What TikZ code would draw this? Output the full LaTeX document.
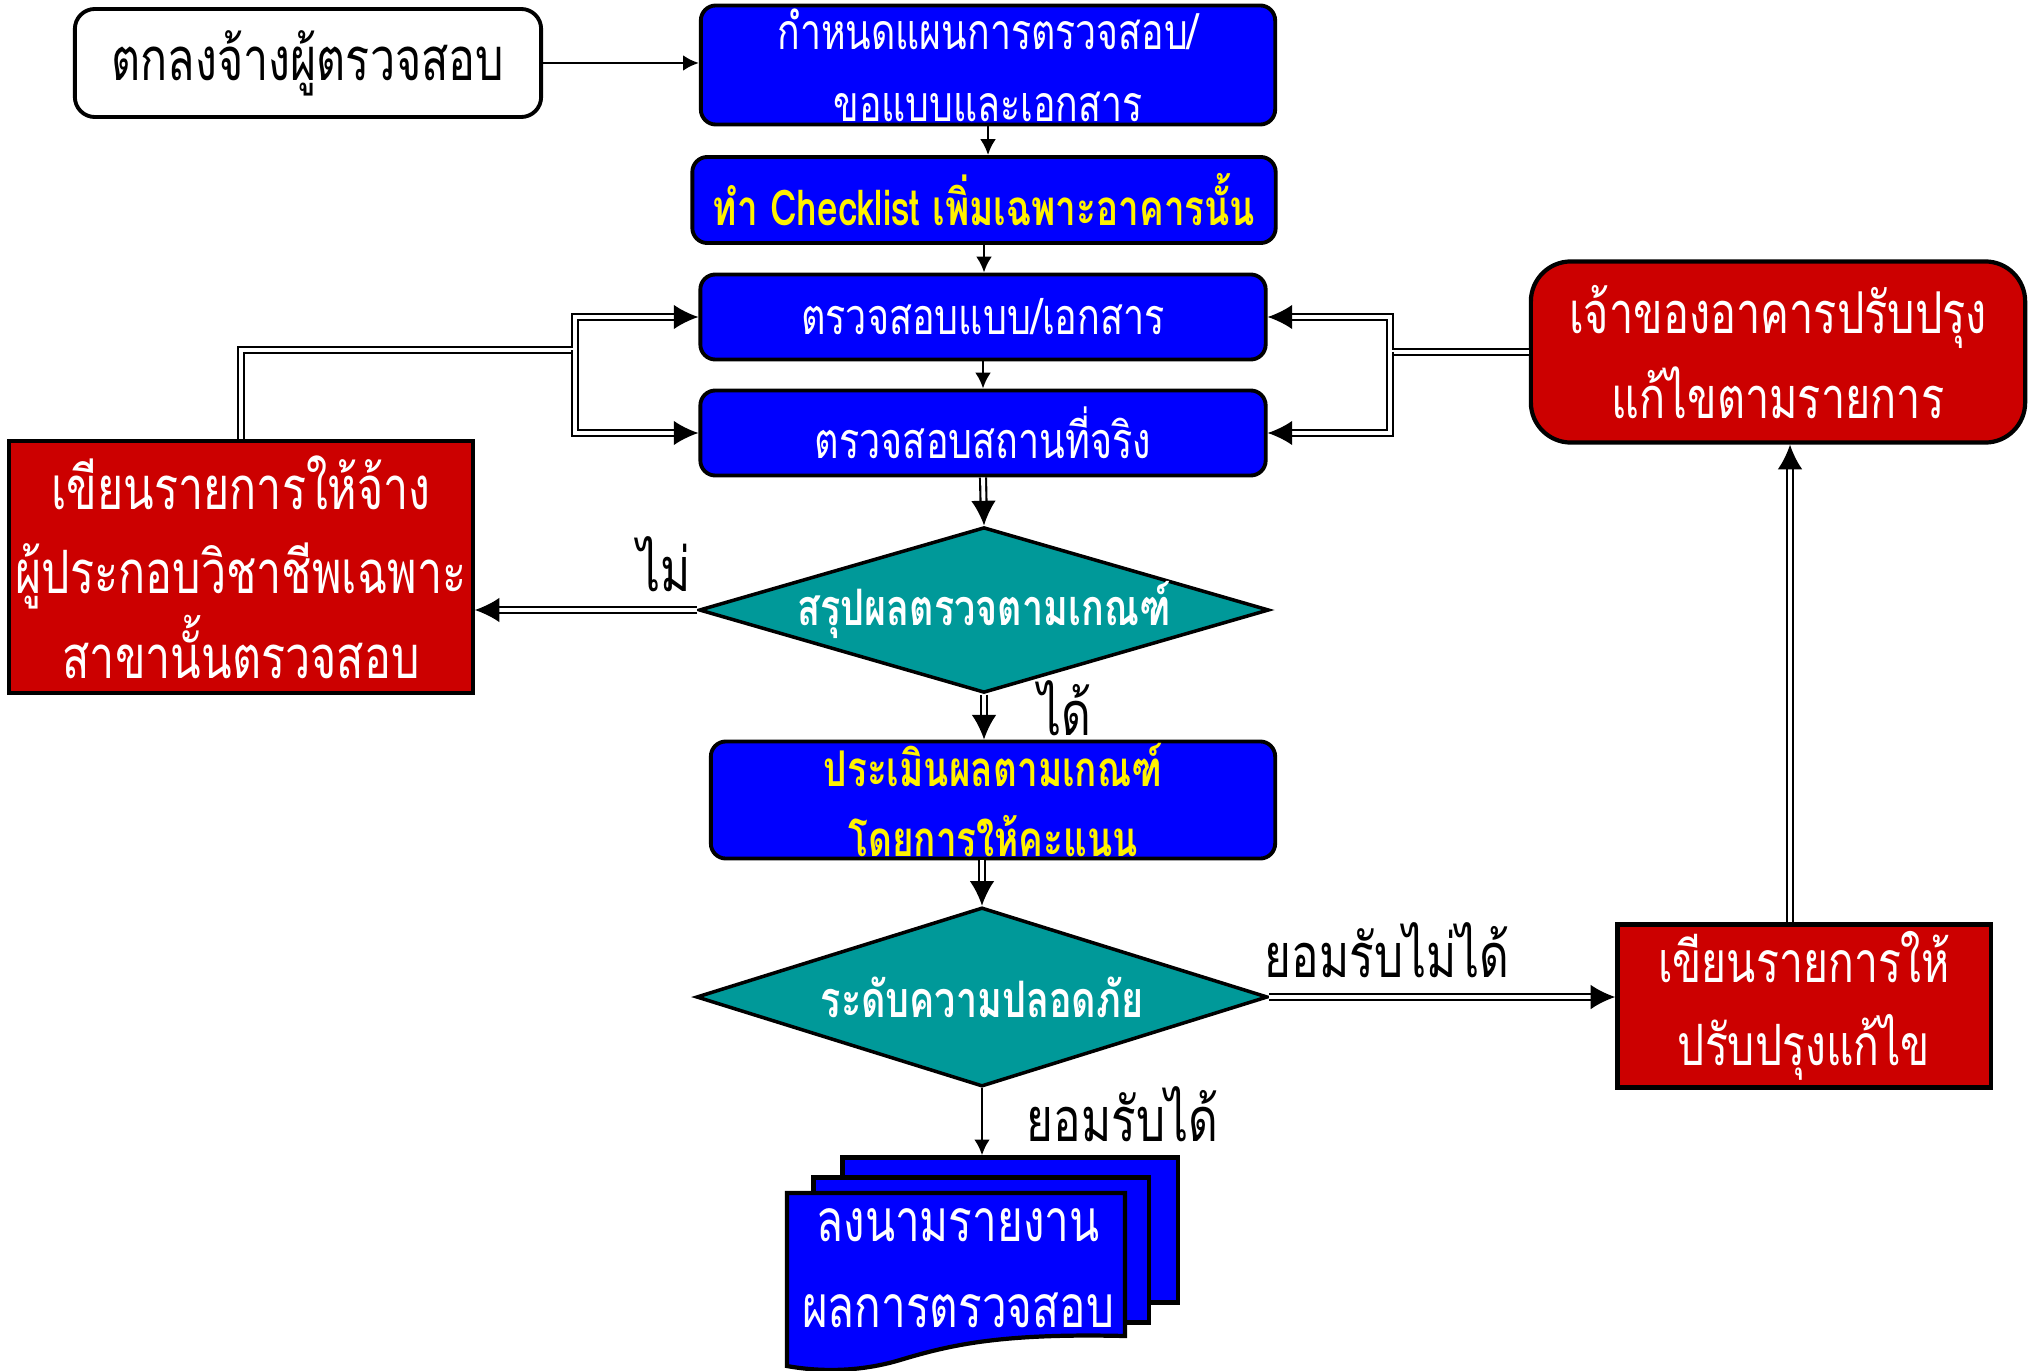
\documentclass[tikz,border=0pt]{standalone}
\usepackage{fontspec}
\newfontfamily\thai[Script=Thai,FakeStretch=0.75]{Loma}
\usetikzlibrary{shapes.geometric,arrows.meta,positioning}

\definecolor{boxblue}{RGB}{0,0,255}
\definecolor{boxred}{RGB}{204,0,0}
\definecolor{boxteal}{RGB}{0,153,153}

\begin{document}
\begin{tikzpicture}[x=0.01cm,y=-0.01cm,
box/.style={draw, line width=1.1pt, rounded corners=0.15cm, inner sep=0pt, align=center},
bluebox/.style={box, fill=boxblue, text=white},
redbox/.style={draw, line width=1.2pt, fill=boxred, text=white, inner sep=0pt, align=center},
decide/.style={diamond, aspect=3.44, draw, line width=1pt, fill=boxteal, text=white, inner sep=0pt},
page/.style={draw, line width=1.2pt, fill=boxblue, minimum width=3.35cm, minimum height=1.45cm},
flow/.style={line width=0.8pt, -{Latex[length=4.5pt,width=4.5pt]}},
dbl/.style={double, line width=0.6pt, double distance=1.1pt, -{Latex[length=7pt,width=7pt]}},
lbl/.style={font=\thai\fontsize{17.4}{20}\selectfont, inner sep=1pt}]

\useasboundingbox (0,0) rectangle (2040,1370);

% top row
\node[box, rounded corners=0.2cm, minimum width=4.66cm, minimum height=1.08cm,
  font=\thai\fontsize{17}{20}\selectfont] (hire) at (308,63) {ตกลงจ้างผู้ตรวจสอบ};
\node[bluebox, minimum width=5.74cm, minimum height=1.19cm,
  font=\thai\fontsize{14.2}{20.5}\selectfont] (plan) at (988,65) {กำหนดแผนการตรวจสอบ/\\ขอแบบและเอกสาร};
\node[bluebox, text=yellow, minimum width=5.83cm, minimum height=0.86cm,
  font=\thai\bfseries\fontsize{14}{17}\selectfont] (checklist) at (984,200) {ทำ Checklist เพิ่มเฉพาะอาคารนั้น};
\node[bluebox, minimum width=5.65cm, minimum height=0.85cm,
  font=\thai\fontsize{14.3}{17}\selectfont] (drawcheck) at (983,317) {ตรวจสอบแบบ/เอกสาร};
\node[bluebox, minimum width=5.65cm, minimum height=0.85cm,
  font=\thai\fontsize{14.3}{17}\selectfont] (sitecheck) at (983,433) {ตรวจสอบสถานที่จริง};

% decisions and scoring
\node[decide, minimum width=5.68cm, minimum height=1.65cm,
  font=\thai\bfseries\fontsize{14.3}{15}\selectfont] (criteria) at (984,610) {สรุปผลตรวจตามเกณฑ์};
\node[bluebox, text=yellow, minimum width=5.64cm, minimum height=1.17cm,
  font=\thai\bfseries\fontsize{14}{20}\selectfont] (score) at (993,800) {ประเมินผลตามเกณฑ์\\โดยการให้คะแนน};
\node[decide, minimum width=5.71cm, minimum height=1.79cm,
  font=\thai\bfseries\fontsize{14.3}{15}\selectfont] (safety) at (982,997) {ระดับความปลอดภัย};

% red boxes
\node[redbox, minimum width=4.63cm, minimum height=2.52cm,
  font=\thai\fontsize{17}{24}\selectfont] (recheck) at (241,567) {เขียนรายการให้จ้าง\\ผู้ประกอบวิชาชีพเฉพาะ\\สาขานั้นตรวจสอบ};
\node[redbox, rounded corners=0.4cm, minimum width=4.94cm, minimum height=1.81cm,
  font=\thai\fontsize{16.4}{24}\selectfont] (ownerfix) at (1778,352) {เจ้าของอาคารปรับปรุง\\แก้ไขตามรายการ};
\node[redbox, minimum width=3.73cm, minimum height=1.63cm,
  font=\thai\fontsize{16.2}{23.5}\selectfont] (writefix) at (1804,1006) {เขียนรายการให้\\ปรับปรุงแก้ไข};

% report stack
\node[page] (page3) at (1010,1230) {};
\node[page] (page2) at (981,1250) {};
\draw[line width=1.2pt, fill=boxblue] (787,1193) -- (1125,1193) -- (1125,1336)
  .. controls (1000,1333) and (950,1345) .. (900,1360)
  .. controls (860,1372) and (820,1372) .. (787,1366) -- cycle;
\node[align=center, text=white, font=\thai\fontsize{16.7}{24.5}\selectfont] (report) at (958,1268) {ลงนามรายงาน\\ผลการตรวจสอบ};

% main flow
\draw[flow] (hire.east) -- (plan.west |- hire.east);
\draw[flow] (plan.south) -- (plan.south |- checklist.north);
\draw[flow] (checklist.south) -- (checklist.south |- drawcheck.north);
\draw[flow] (drawcheck.south) -- (sitecheck.north);
\draw[dbl] (sitecheck.south) -- (criteria.north);
\draw[dbl] (criteria.west) -- node[lbl, pos=0.15, above=4pt] {ไม่} (recheck.east |- criteria.west);
\draw[dbl] (criteria.south) -- node[lbl, pos=0.3, right=0.5cm] {ได้} (criteria.south |- score.north);
\draw[dbl] (score.south -| safety.north) -- (safety.north);
\draw[dbl] (safety.east) -- node[lbl, pos=0.34, above=0.15cm] {ยอมรับไม่ได้} (writefix.west |- safety.east);
\draw[flow] (safety.south) -- node[lbl, pos=0.38, right=0.4cm] {ยอมรับได้} (safety.south |- page3.north);

% loops back
\coordinate (jsplit) at (575,350);
\coordinate (ksplit) at (1390,352);
\draw[dbl] (recheck.north) |- (jsplit) |- (drawcheck.west);
\draw[dbl] (jsplit) |- (sitecheck.west);
\draw[dbl] ([xshift=-0.14cm]writefix.north) -- ([xshift=-0.14cm]writefix.north |- ownerfix.south);
\draw[dbl] (ownerfix.west) -- (ksplit) |- (drawcheck.east);
\draw[dbl] (ksplit) |- (sitecheck.east);
\end{tikzpicture}
\end{document}
